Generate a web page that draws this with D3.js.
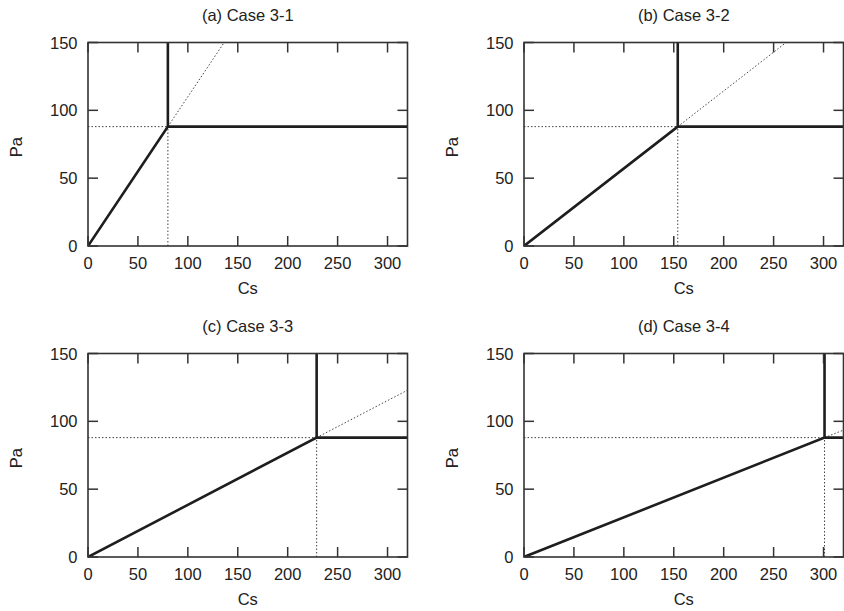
<!DOCTYPE html>
<html>
<head>
<meta charset="utf-8">
<title>Case 3 Pa vs Cs</title>
<script src="https://cdn.jsdelivr.net/npm/d3@7/dist/d3.min.js"></script>
<style>
  body { margin: 0; background: #fff; }
  text { font-family: "Liberation Sans", Arial, sans-serif; fill: #222; }
</style>
</head>
<body>
<script>
// data
var titles = ["(a) Case 3-1", "(b) Case 3-2", "(c) Case 3-3", "(d) Case 3-4"];
var breakCs = [80, 154, 229, 301];   // Cs where Pa reaches its cap
var paCap = 88;
var xTicks = [0, 50, 100, 150, 200, 250, 300];
var yTicks = [0, 50, 100, 150];
var xMax = 320, yMax = 150;

var W = 844, H = 611;
var cols = [88, 524], rows = [42.5, 353.5];
var pw = 319.5, ph = 203.5;

var svg = d3.select("body").append("svg")
    .attr("width", W).attr("height", H);

titles.forEach(function (title, i) {
    var ox = cols[i % 2], oy = rows[Math.floor(i / 2)];
    var g = svg.append("g").attr("transform", "translate(" + ox + "," + oy + ")");
    var x = d3.scaleLinear().domain([0, xMax]).range([0, pw]);
    var y = d3.scaleLinear().domain([0, yMax]).range([ph, 0]);

    var clipId = "clip" + i;
    g.append("clipPath").attr("id", clipId)
      .append("rect").attr("width", pw).attr("height", ph);
    var body = g.append("g").attr("clip-path", "url(#" + clipId + ")");

    var cb = breakCs[i];
    var slope = paCap / cb;
    // end of the extended diagonal
    var ex = Math.min(xMax, yMax / slope);
    var line = d3.line().x(function (d) { return x(d[0]); }).y(function (d) { return y(d[1]); });

    var dotted = [
        [[0, paCap], [cb, paCap]],
        [[cb, 0], [cb, paCap]],
        [[cb, paCap], [ex, ex * slope]]
    ];
    body.selectAll("path.dot").data(dotted).enter().append("path")
        .attr("class", "dot")
        .attr("d", line)
        .attr("fill", "none")
        .attr("stroke", "#444")
        .attr("stroke-width", 1)
        .attr("stroke-dasharray", "1.5,2");

    var solid = [
        [[0, 0], [cb, paCap], [xMax, paCap]],
        [[cb, paCap], [cb, yMax]]
    ];
    body.selectAll("path.solid").data(solid).enter().append("path")
        .attr("class", "solid")
        .attr("d", line)
        .attr("fill", "none")
        .attr("stroke", "#1e1e1e")
        .attr("stroke-width", 2.6)
        .attr("stroke-linejoin", "miter");

    // inward ticks on all four sides
    var tk = 10;
    var ticks = g.append("g").attr("stroke", "#333").attr("stroke-width", 1.5);
    xTicks.forEach(function (t) {
        ticks.append("line").attr("x1", x(t)).attr("x2", x(t)).attr("y1", ph).attr("y2", ph - tk);
        ticks.append("line").attr("x1", x(t)).attr("x2", x(t)).attr("y1", 0).attr("y2", tk);
    });
    yTicks.forEach(function (t) {
        ticks.append("line").attr("x1", 0).attr("x2", tk).attr("y1", y(t)).attr("y2", y(t));
        ticks.append("line").attr("x1", pw).attr("x2", pw - tk).attr("y1", y(t)).attr("y2", y(t));
    });

    g.append("rect").attr("width", pw).attr("height", ph)
        .attr("fill", "none").attr("stroke", "#333").attr("stroke-width", 1.6);

    // labels
    g.selectAll("text.xt").data(xTicks).enter().append("text")
        .attr("class", "xt")
        .attr("x", function (d) { return x(d); })
        .attr("y", ph + 23)
        .attr("text-anchor", "middle")
        .style("font-size", "16.5px")
        .text(function (d) { return d; });
    g.selectAll("text.yt").data(yTicks).enter().append("text")
        .attr("class", "yt")
        .attr("x", -10.5)
        .attr("y", function (d) { return y(d) + 6; })
        .attr("text-anchor", "end")
        .style("font-size", "16.5px")
        .text(function (d) { return d; });

    g.append("text")
        .attr("x", pw / 2).attr("y", -21.5)
        .attr("text-anchor", "middle")
        .style("font-size", "16.5px")
        .text(title);
    g.append("text")
        .attr("x", pw / 2).attr("y", ph + 48)
        .attr("text-anchor", "middle")
        .style("font-size", "16.5px")
        .text("Cs");
    g.append("text")
        .attr("transform", "translate(-66," + (ph / 2 + 3) + ") rotate(-90)")
        .attr("text-anchor", "middle")
        .style("font-size", "16.5px")
        .text("Pa");
});
</script>
</body>
</html>
